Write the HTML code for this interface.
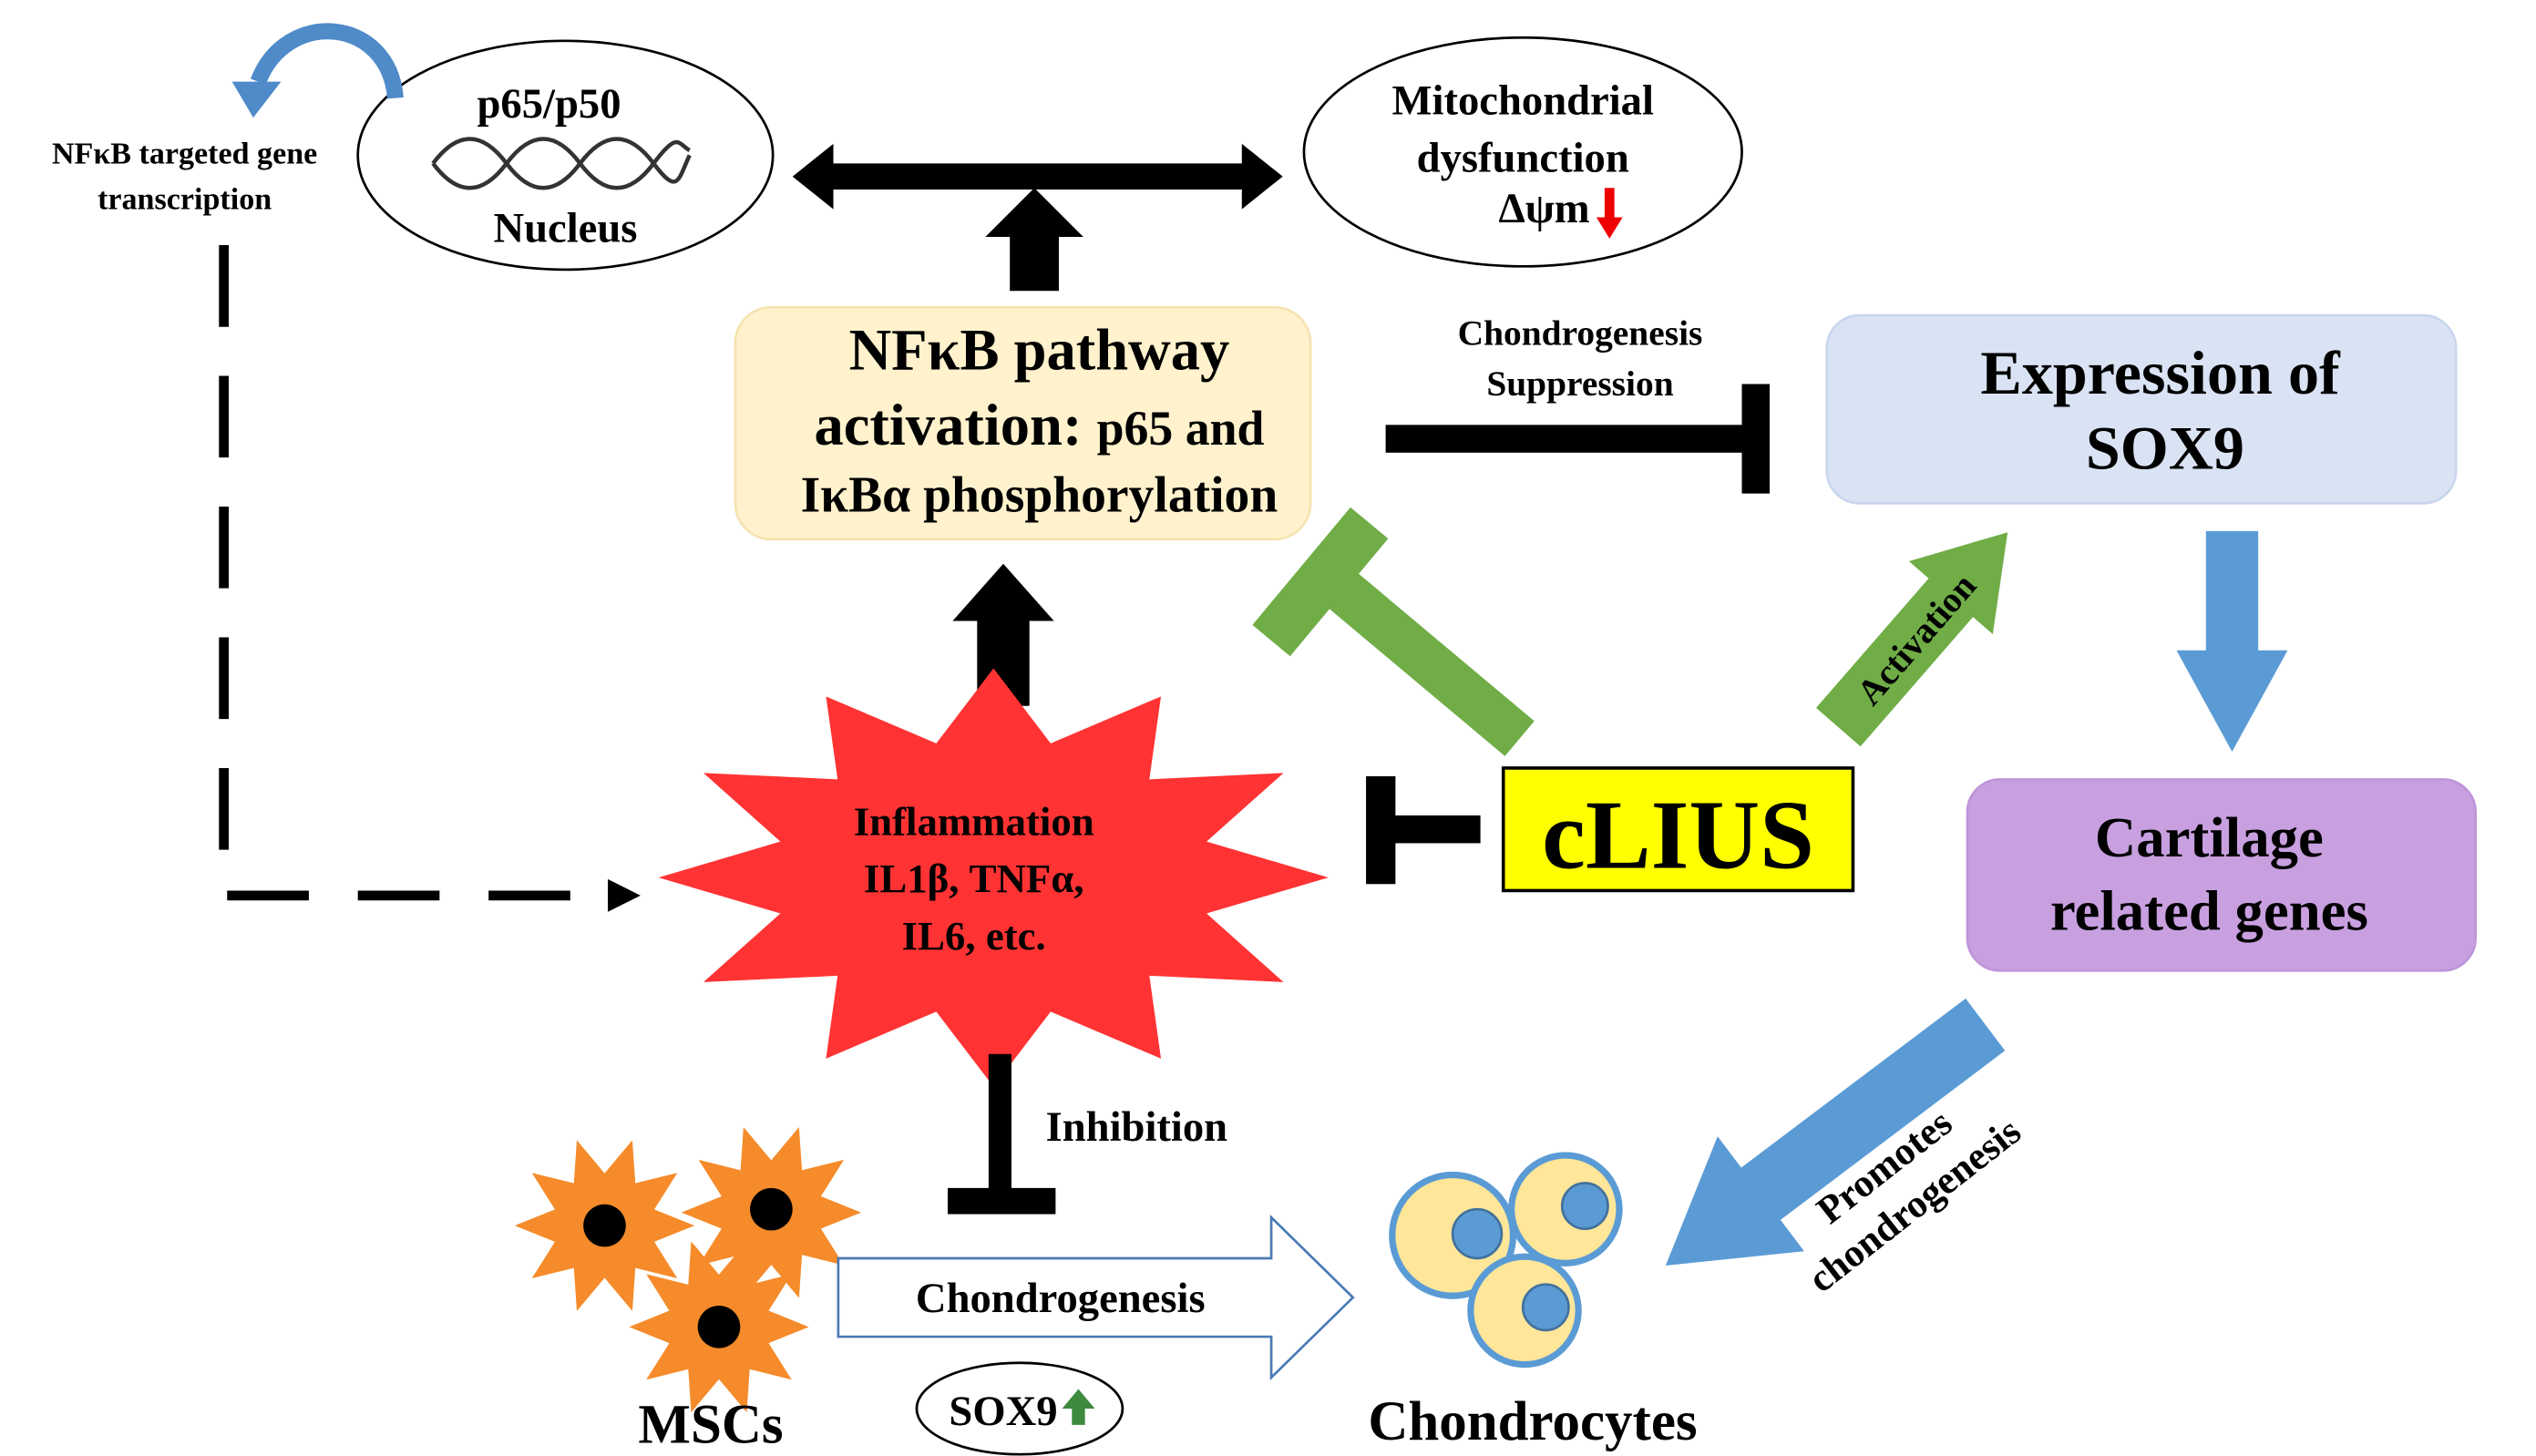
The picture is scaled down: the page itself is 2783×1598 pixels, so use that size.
<!DOCTYPE html>
<html><head><meta charset="utf-8"><style>
html,body{margin:0;padding:0;background:#fff;}
svg{display:block;}
text{font-family:"Liberation Serif",serif;font-weight:bold;fill:#000;}
</style></head><body>
<svg width="2783" height="1598" viewBox="0 0 1552 891" preserveAspectRatio="none" xmlns="http://www.w3.org/2000/svg">
<defs>
<polygon id="ost" points="55,0 30.4,9.9 44.5,32.3 18.8,25.9 17,52.3 0,32 -17,52.3 -18.8,25.9 -44.5,32.3 -30.4,9.9 -55,0 -30.4,-9.9 -44.5,-32.3 -18.8,-25.9 -17,-52.3 0,-32 17,-52.3 18.8,-25.9 44.5,-32.3 30.4,-9.9" fill="#f58b2a"/>
</defs>
<ellipse cx="346" cy="95" rx="127" ry="70" fill="#fff" stroke="#000" stroke-width="1.5"/>
<text x="336" y="72" font-size="26" text-anchor="middle">p65/p50</text>
<g fill="none" stroke="#333" stroke-width="2.5">
<path d="M265,100 C280,80 295,80 310,100 S340,120 355,100 S385,80 400,100 S415,110 422,95"/>
<path d="M265,100 C280,120 295,120 310,100 S340,80 355,100 S385,120 400,100 S415,88 422,92"/>
</g>
<text x="346" y="148" font-size="26" text-anchor="middle">Nucleus</text>
<path d="M242,60 C238,10 175,5 158,50" fill="none" stroke="#4f8ac9" stroke-width="10"/>
<polygon points="142,50 172,50 155,72" fill="#4f8ac9"/>
<text x="113" y="100" font-size="19" text-anchor="middle">NFκB targeted gene</text>
<text x="113" y="128" font-size="19" text-anchor="middle">transcription</text>
<path d="M137,150 L137,548 L372,548" fill="none" stroke="#000" stroke-width="6" stroke-dasharray="50,30"/>
<polygon points="372,538 392,548 372,558" fill="#000"/>
<polygon points="485,108 510,88 510,100 760,100 760,88 785,108 760,128 760,116 510,116 510,128" fill="#000"/>
<polygon points="618,178 618,145 603,145 633,115 663,145 648,145 648,178" fill="#000"/>
<ellipse cx="932" cy="93" rx="134" ry="70" fill="#fff" stroke="#000" stroke-width="1.5"/>
<text x="932" y="70" font-size="26" text-anchor="middle">Mitochondrial</text>
<text x="932" y="105" font-size="26" text-anchor="middle">dysfunction</text>
<text x="945" y="136" font-size="26" text-anchor="middle">Δψm</text>
<polygon points="982,115 988,115 988,133 993,133 985,146 977,133 982,133" fill="#e00"/>
<rect x="450" y="188" width="352" height="142" rx="22" fill="#fff2cc" stroke="#f5e3b0" stroke-width="1.5"/>
<text x="636" y="226" font-size="36" text-anchor="middle">NFκB pathway</text>
<text x="636" y="272" font-size="36" text-anchor="middle">activation: <tspan font-size="30">p65 and</tspan></text>
<text x="636" y="313" font-size="31" text-anchor="middle">IκBα phosphorylation</text>
<text x="967" y="211" font-size="22" text-anchor="middle">Chondrogenesis</text>
<text x="967" y="242" font-size="22" text-anchor="middle">Suppression</text>
<rect x="848" y="260" width="226" height="17" fill="#000"/>
<rect x="1066" y="235" width="17" height="67" fill="#000"/>
<rect x="1118" y="193" width="385" height="115" rx="20" fill="#dae3f3" stroke="#c9d6ee" stroke-width="1.5"/>
<text x="1322" y="241" font-size="38" text-anchor="middle">Expression of</text>
<text x="1325" y="287" font-size="38" text-anchor="middle">SOX9</text>
<polygon points="1350,325 1382,325 1382,398 1400,398 1366,460 1332,398 1350,398" fill="#5b9bd5"/>
<rect x="1204" y="477" width="311" height="117" rx="20" fill="#c8a0e0" stroke="#bf95da" stroke-width="1.5"/>
<text x="1352" y="524" font-size="35" text-anchor="middle">Cartilage</text>
<text x="1352" y="569" font-size="35" text-anchor="middle">related genes</text>
<polygon points="598,432 598,380 583,380 614,345 645,380 630,380 630,432" fill="#000"/>
<polygon points="813,537 738.4,559 785.5,601 703.4,597.1 710.5,647.8 643,619.1 608,665 573,619.1 505.5,647.8 512.6,597.1 430.5,601 477.6,559 403,537 477.6,515 430.5,473 512.6,476.9 505.5,426.2 573,454.9 608,409 643,454.9 710.5,426.2 703.4,476.9 785.5,473 738.4,515" fill="#ff3333"/>
<text x="596" y="511" font-size="25" text-anchor="middle">Inflammation</text>
<text x="596" y="546" font-size="25" text-anchor="middle">IL1β, TNFα,</text>
<text x="596" y="581" font-size="25" text-anchor="middle">IL6, etc.</text>
<line x1="930" y1="452" x2="812" y2="353" stroke="#70ad47" stroke-width="28"/>
<line x1="778" y1="392" x2="838" y2="320" stroke="#70ad47" stroke-width="30"/>
<g transform="translate(1125,445) rotate(-49)">
<polygon points="0,-18 105,-18 105,-34 158,0 105,34 105,18 0,18" fill="#70ad47"/>
<text x="72" y="8" font-size="22" text-anchor="middle">Activation</text>
</g>
<rect x="920" y="470" width="214" height="75" fill="#ffff00" stroke="#000" stroke-width="2"/>
<text x="1027" y="531" font-size="60" text-anchor="middle">cLIUS</text>
<rect x="850" y="499" width="56" height="17" fill="#000"/>
<rect x="836" y="475" width="18" height="66" fill="#000"/>
<rect x="605" y="645" width="14" height="90" fill="#000"/>
<rect x="580" y="727" width="66" height="16" fill="#000"/>
<text x="640" y="698" font-size="26">Inhibition</text>
<use href="#ost" transform="translate(370,750)"/>
<use href="#ost" transform="translate(472,742)"/>
<use href="#ost" transform="translate(440,812)"/>
<circle cx="370" cy="750" r="13" fill="#000"/>
<circle cx="472" cy="740" r="13" fill="#000"/>
<circle cx="440" cy="812" r="13" fill="#000"/>
<text x="435" y="883" font-size="34" text-anchor="middle">MSCs</text>
<polygon points="513,770 778,770 778,745 828,794 778,843 778,818 513,818" fill="#fff" stroke="#4a7ab5" stroke-width="1.5"/>
<text x="649" y="803" font-size="26" text-anchor="middle">Chondrogenesis</text>
<ellipse cx="624" cy="862" rx="63" ry="28" fill="#fff" stroke="#000" stroke-width="1.5"/>
<text x="614" y="872" font-size="26" text-anchor="middle">SOX9</text>
<polygon points="656,872 656,862 650,862 660,850 670,862 664,862 664,872" fill="#3e8a3e"/>
<g stroke="#5b9bd5" stroke-width="4" fill="#ffe699">
<circle cx="889" cy="756" r="37"/>
<circle cx="958" cy="740" r="33"/>
<circle cx="933" cy="802" r="33"/>
</g>
<g fill="#5b9bd5" stroke="#41719c" stroke-width="1.5">
<circle cx="904" cy="755" r="15"/>
<circle cx="970" cy="738" r="14"/>
<circle cx="946" cy="800" r="14"/>
</g>
<text x="938" y="881" font-size="34" text-anchor="middle">Chondrocytes</text>
<g transform="translate(1215,627) rotate(143)">
<polygon points="0,-20 172,-20 172,-44 245,0 172,44 172,20 0,20" fill="#5b9bd5"/>
</g>
<g transform="translate(1158,720) rotate(-38)">
<text x="0" y="0" font-size="24" text-anchor="middle">Promotes</text>
<text x="0" y="30" font-size="24" text-anchor="middle">chondrogenesis</text>
</g>
</svg>
</body></html>
